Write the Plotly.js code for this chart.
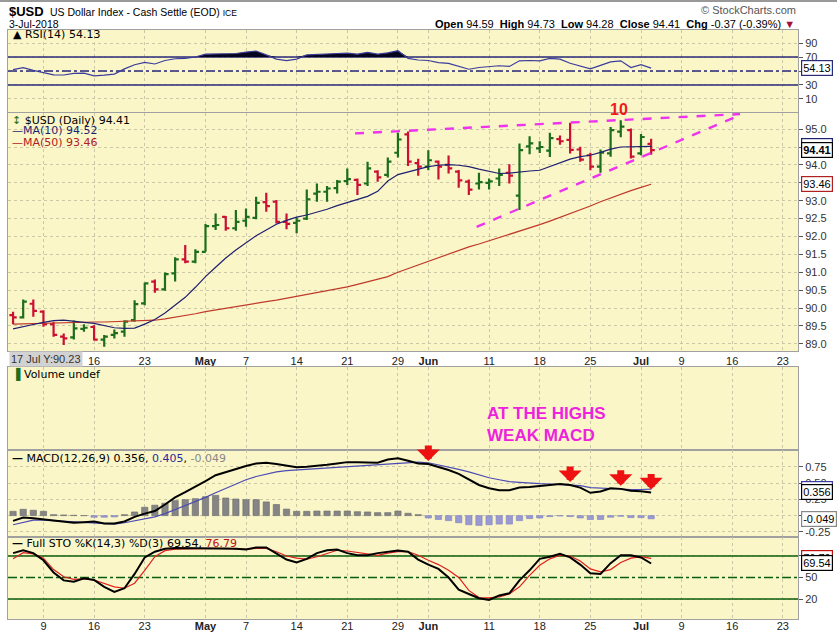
<!DOCTYPE html>
<html><head><meta charset="utf-8">
<script src="https://cdn.plot.ly/plotly-3.0.1.min.js"></script>
<style>html,body{margin:0;padding:0;background:#fff}#chart{width:837px;height:633px}</style>
</head><body><div id="chart"></div>
<script>
// ---------- data ----------
const dates = ['2018-04-04','2018-04-05','2018-04-06','2018-04-09','2018-04-10','2018-04-11','2018-04-12','2018-04-13','2018-04-16','2018-04-17','2018-04-18','2018-04-19','2018-04-20','2018-04-23','2018-04-24','2018-04-25','2018-04-26','2018-04-27','2018-04-30',
'2018-05-01','2018-05-02','2018-05-03','2018-05-04','2018-05-07','2018-05-08','2018-05-09','2018-05-10','2018-05-11','2018-05-14','2018-05-15','2018-05-16','2018-05-17','2018-05-18','2018-05-21','2018-05-22','2018-05-23','2018-05-24','2018-05-25','2018-05-29','2018-05-30','2018-05-31',
'2018-06-01','2018-06-04','2018-06-05','2018-06-06','2018-06-07','2018-06-08','2018-06-11','2018-06-12','2018-06-13','2018-06-14','2018-06-15','2018-06-18','2018-06-19','2018-06-20','2018-06-21','2018-06-22','2018-06-25','2018-06-26','2018-06-27','2018-06-28','2018-06-29',
'2018-07-02','2018-07-03'];
const futureDates = ['2018-07-05','2018-07-06','2018-07-09','2018-07-10','2018-07-11','2018-07-12','2018-07-13','2018-07-16','2018-07-17','2018-07-18','2018-07-19','2018-07-20','2018-07-23','2018-07-24'];

const open  = [89.80,89.74,90.12,89.90,89.55,89.20,89.18,89.42,89.47,89.12, 89.25,89.34,89.66,90.13,90.74,90.52,90.97,91.36,91.30,91.57, 92.29,92.55,92.23,92.44,92.52,92.96,92.97,92.41,92.38,92.50, 93.20,93.25,93.35,93.55,93.58,93.48,93.81,93.72,94.34,94.85, 94.05,93.95,94.09,94.00,93.81,93.53,93.48,93.50,93.62,93.78, 93.14,94.52,94.46,94.40,94.72,94.70,94.43,94.27,93.95,94.32, 94.93,94.97,94.32,94.59];
const high  = [89.90,90.24,90.24,89.94,89.62,89.29,89.65,89.55,89.52,89.25, 89.40,89.66,90.22,90.71,90.80,90.99,91.42,91.76,91.64,92.35, 92.64,92.57,92.74,92.78,93.11,93.22,93.02,92.64,92.53,93.31, 93.48,93.41,93.58,93.90,93.62,94.09,93.85,94.21,94.90,94.93, 94.17,94.41,94.12,94.26,93.86,93.59,93.78,93.62,93.90,94.02, 94.60,94.80,94.66,94.90,94.82,95.18,94.51,94.34,94.43,95.06, 95.25,95.02,94.86,94.73];
const low   = [89.55,89.71,89.76,89.48,89.20,88.97,89.12,89.34,89.09,88.92, 89.15,89.20,89.62,90.08,90.43,90.48,90.74,91.25,91.25,91.57, 92.18,92.16,92.16,92.27,92.48,92.69,92.36,92.20,92.09,92.46, 92.97,92.97,93.20,93.44,93.16,93.41,93.53,93.65,94.21,93.97, 93.70,93.85,93.59,93.76,93.36,93.16,93.31,93.31,93.41,93.48, 92.74,94.30,94.33,94.22,94.56,94.32,94.09,93.85,93.78,94.23, 94.77,94.18,94.27,94.28];
const close = [89.74,90.18,89.92,89.55,89.25,89.15,89.43,89.45,89.12,89.20, 89.30,89.62,90.11,90.69,90.52,90.95,91.36,91.30,91.57,92.29, 92.32,92.23,92.41,92.55,92.94,92.85,92.41,92.35,92.44,93.04, 93.25,93.34,93.53,93.60,93.44,93.90,93.65,94.09,94.71,94.09, 93.95,94.13,93.95,93.90,93.57,93.31,93.52,93.54,93.72,93.70, 94.41,94.60,94.50,94.75,94.66,94.42,94.15,93.95,94.34,94.97, 95.07,94.23,94.78,94.41];

const ma10 = [89.42,89.47,89.54,89.60,89.65,89.66,89.64,89.60,89.57,89.50, 89.45,89.43,89.44,89.55,89.68,89.86,90.08,90.30,90.58,90.88, 91.14,91.40,91.62,91.82,92.02,92.18,92.34,92.45,92.54,92.60, 92.67,92.76,92.86,92.94,93.02,93.12,93.26,93.55,93.73,93.80, 93.86,93.95,93.99,94.01,93.99,93.95,93.88,93.81,93.76,93.77, 93.81,93.83,93.85,93.95,94.06,94.16,94.23,94.27,94.35,94.44, 94.50,94.51,94.51,94.52];
const ma50 = [89.55,89.56,89.57,89.58,89.59,89.60,89.60,89.61,89.61,89.61, 89.62,89.62,89.62,89.63,89.66,89.70,89.74,89.79,89.84,89.90, 89.95,89.99,90.03,90.08,90.13,90.18,90.22,90.27,90.32,90.37, 90.42,90.47,90.53,90.59,90.66,90.73,90.80,90.88,91.00,91.10, 91.20,91.32,91.42,91.51,91.61,91.71,91.79,91.88,91.96,92.05, 92.13,92.23,92.33,92.43,92.53,92.63,92.73,92.85,92.97,93.08, 93.18,93.28,93.37,93.46];

const rsi = [52,54.7,51,47.5,44.5,44.3,46.5,47,43,44, 45.5,53,59,62.4,60,65,67.5,68,70,74, 74.5,74,75,77,78.6,73,67,64.8,67,73, 74,74,75,75.5,74,76.7,74,76,79,68, 65.7,65,62,61,57,52.5,55,56,57.5,56.5, 64.5,65,64.5,68,67,61,57,53,58,63, 64.5,55,59,54.13];

const macd = [-0.08,-0.03,-0.04,-0.06,-0.075,-0.09,-0.11,-0.10,-0.09,-0.12, -0.12,-0.09,-0.02,0.03,0.07,0.17,0.28,0.36,0.44,0.53, 0.62,0.67,0.72,0.76,0.80,0.81,0.79,0.76,0.74,0.75, 0.76,0.78,0.80,0.82,0.82,0.81,0.81,0.86,0.88,0.84, 0.80,0.79,0.75,0.70,0.64,0.56,0.47,0.42,0.39,0.39, 0.43,0.44,0.45,0.47,0.485,0.47,0.43,0.35,0.37,0.42, 0.41,0.38,0.375,0.356];
const signal = [-0.14,-0.10,-0.07,-0.07,-0.08,-0.085,-0.09,-0.10,-0.115,-0.125, -0.13,-0.11,-0.08,-0.05,-0.02,0.03,0.09,0.16,0.22,0.28, 0.35,0.42,0.49,0.55,0.60,0.64,0.67,0.69,0.70,0.71, 0.72,0.73,0.74,0.76,0.77,0.78,0.79,0.79,0.80,0.81, 0.82,0.81,0.78,0.75,0.71,0.67,0.62,0.58,0.55,0.52, 0.51,0.495,0.49,0.485,0.48,0.47,0.46,0.43,0.42,0.41, 0.40,0.40,0.40,0.405];
const hist = [0.066,0.097,0.082,0.066,0.015,0.01,0.005,0,-0.025,-0.025, -0.02,0.015,0.056,0.128,0.16,0.19,0.23,0.245,0.26,0.29, 0.31,0.27,0.255,0.245,0.245,0.21,0.17,0.10,0.066,0.066, 0.07,0.07,0.07,0.07,0.06,0.056,0.046,0.046,0.07,0.036, 0.015,-0.036,-0.06,-0.077,-0.11,-0.14,-0.15,-0.14,-0.13,-0.13, -0.077,-0.046,-0.036,-0.015,-0.005,-0.015,-0.036,-0.06,-0.06,-0.025, -0.01,-0.03,-0.03,-0.049];

const stoK = [84,88,84,74,57,46,44,49,46.5,37, 30,35,55,78,86,90,91,91,91,91, 91,91,90,89,92,92,83,75,71,76, 84,88,89,84,81,81,84,86,87.5,86, 75,68,62,50,33,27,21,18.7,25,28, 46,60,76,79,83,78,68,56,55,70, 81,81,78,69.54];
const stoD = [76,84.7,83,77,61,51,47.5,48,46.5,42, 37,35,42,60,79,87.5,89.5,90,90.5,90.5, 90.5,90.5,89.5,89.5,90.5,90.5,86,80,77,75.5, 79,84,88,87,85,82,81,84,86,86, 81,74,68,60,50,32,22,21.5,23,27, 37,53,67,76,81,80,73,62,58,61, 71,77,79,76.79];

const tickDates  = ['2018-04-09','2018-04-16','2018-04-23','2018-05-01','2018-05-07','2018-05-14','2018-05-21','2018-05-29','2018-06-01','2018-06-11','2018-06-18','2018-06-25','2018-07-02','2018-07-09','2018-07-16','2018-07-23'];
const tickLabels = ['9','16','23','<b>May</b>','7','14','21','29','<b>Jun</b>','11','18','25','<b>Jul</b>','9','16','23'];

// hand-drawn annotations on the chart (date index, price)
const trendLines = [ {x0:33.76, y0:94.88, x1:71.77, y1:95.42}, {x0:45.77, y0:92.27, x1:71.77, y1:95.39} ];
const arrowDates = ['2018-06-01','2018-06-21','2018-06-28','2018-07-03'];

// ---------- build ----------
const allDates = dates.concat(futureDates);
const xi = dates.map((d,i)=>i);
const idx = d => allDates.indexOf(d);
const tickvals = tickDates.map(idx);

const H=633, T=30, B=14, PH=H-T-B;
const py = y => (H-B-y)/PH;           // pixel y -> paper
const pxx = x => (x-8)/790;           // pixel x -> paper
const dom = (top,bot)=>[py(bot), py(top)];

const GRID='#cbc8a8', FRAME='#a0a0a0';
const baseX = {range:[-0.5,77.5], tickmode:'array', tickvals:tickvals, ticktext:tickLabels,
  showgrid:true, gridcolor:GRID, griddash:'dot', gridwidth:1, showline:true, mirror:true, linecolor:FRAME,
  zeroline:false, ticks:'', showticklabels:false, fixedrange:true,
  tickfont:{family:'Liberation Sans, Arial', size:11, color:'#222'}};
const baseY = {side:'right', showgrid:true, gridcolor:GRID, griddash:'dot', showline:true, mirror:true, linecolor:FRAME,
  zeroline:false, ticks:'outside', ticklen:4, tickcolor:'#555', fixedrange:true,
  tickfont:{family:'Liberation Sans, Arial', size:11, color:'#333'}};

const xr = [-0.5, 77.5];
const level = (xa, ya, v, color, dash, w) => ({x:xr, y:[v,v], xaxis:xa, yaxis:ya, mode:'lines', line:{color:color, width:w||1.5, dash:dash||'solid'}, hoverinfo:'skip'});

const traces = [];
// RSI
traces.push(level('x','y',70,'#2a2a7a'), level('x','y',30,'#2a2a7a'), level('x','y',50,'#2a2a7a','dashdot',1.3));
traces.push({x:xi, y:rsi.map(()=>70), xaxis:'x', yaxis:'y', mode:'lines', line:{width:0}, hoverinfo:'skip'});
traces.push({x:xi, y:rsi.map(v=>Math.max(v,70)), xaxis:'x', yaxis:'y', mode:'lines', line:{width:0}, fill:'tonexty', fillcolor:'#05051e', hoverinfo:'skip'});
traces.push({x:xi, y:rsi, xaxis:'x', yaxis:'y', mode:'lines', line:{color:'#3c3c9c', width:1.2}});
// Price
traces.push({x:xi, y:ma50, xaxis:'x2', yaxis:'y2', mode:'lines', line:{color:'#c0392b', width:1.2}});
traces.push({x:xi, y:ma10, xaxis:'x2', yaxis:'y2', mode:'lines', line:{color:'#1f1f70', width:1.2}});
traces.push({type:'ohlc', x:xi, open:open, high:high, low:low, close:close, xaxis:'x2', yaxis:'y2', tickwidth:0.36,
  increasing:{line:{color:'#1c6e1c', width:2.2}}, decreasing:{line:{color:'#cc1033', width:2.2}}});
// Volume placeholder (empty panel)
traces.push({x:[0], y:[0.5], xaxis:'x3', yaxis:'y3', mode:'markers', marker:{opacity:0}, hoverinfo:'skip'});
// MACD
traces.push({type:'bar', x:xi, y:hist, xaxis:'x4', yaxis:'y4', width:0.62,
  marker:{color:hist.map(v=>v>=0?'#858585':'#9a9ad2'), line:{color:hist.map(v=>v>=0?'#6a6a6a':'#8080c0'), width:0.6}}});
traces.push({x:xi, y:signal, xaxis:'x4', yaxis:'y4', mode:'lines', line:{color:'#4b4bb4', width:1.2}});
traces.push({x:xi, y:macd, xaxis:'x4', yaxis:'y4', mode:'lines', line:{color:'#000', width:2}});
// STO
traces.push(level('x5','y5',80,'#0b5e0b'), level('x5','y5',20,'#0b5e0b'), level('x5','y5',50,'#0b5e0b','dashdot',1.3));
traces.push({x:xi, y:stoD, xaxis:'x5', yaxis:'y5', mode:'lines', line:{color:'#e02020', width:1.2}});
traces.push({x:xi, y:stoK, xaxis:'x5', yaxis:'y5', mode:'lines', line:{color:'#000', width:2}});

const shapes = [
  {type:'line', xref:'paper', yref:'paper', x0:-0.02, x1:1.06, y0:py(1), y1:py(1), line:{color:'#999', width:2}}
];
trendLines.forEach(t=>shapes.push({type:'line', xref:'x2', yref:'y2', x0:t.x0, y0:t.y0, x1:t.x1, y1:t.y1, line:{color:'#ee33ee', width:2.4, dash:'dash'}}));

const F = 'DejaVu Sans, Verdana, sans-serif';
const A = 'Liberation Sans, Arial, sans-serif';
const txt = (x,y,text,opt) => Object.assign({xref:'paper', yref:'paper', x:pxx(x), y:py(y), xanchor:'left', yanchor:'middle', text:text, showarrow:false, font:{family:F, size:11, color:'#000'}}, opt||{});
const annotations = [
  txt(7,12,'<b>$USD</b>',{font:{family:A,size:13,color:'#000'}}),
  txt(48,12,'US Dollar Index - Cash Settle (EOD) <span style="font-size:8.5px">ICE</span>',{font:{family:A,size:10.5,color:'#000'}}),
  txt(7,24,'3-Jul-2018',{font:{family:A,size:10.5,color:'#000'}}),
  txt(798,10,'\u00a9 StockCharts.com',{xanchor:'right',font:{family:A,size:11,color:'#555'}}),
  txt(797,24,'<b>Open</b> 94.59  <b>High</b> 94.73  <b>Low</b> 94.28  <b>Close</b> 94.41  <b>Chg</b> -0.37 (-0.39%) <span style="color:#a0103a">\u25BC</span>',{xanchor:'right',font:{family:A,size:11,color:'#000'}}),
  txt(11,35,'\u25B2 RSI(14) 54.13'),
  txt(10,120,'<span style="color:#1c6e1c">\u2195</span> $USD (Daily) 94.41'),
  txt(10,131,'<span style="color:#1f1f70">\u2014MA(10) 94.52</span>'),
  txt(10,142,'<span style="color:#b02020">\u2014MA(50) 93.46</span>'),
  txt(10,374,'<span style="color:#1c6e1c">\u2590</span> Volume undef'),
  txt(10,458,'<b>\u2014</b> MACD(12,26,9) 0.356, <span style="color:#2a2a9a">0.405</span>, <span style="color:#888">-0.049</span>'),
  txt(10,543,'<b>\u2014</b> Full STO %K(14,3) %D(3) 69.54, <span style="color:#c01010">76.79</span>'),
  txt(9,359,'17 Jul Y:90.23',{bgcolor:'#d2d2d2', font:{family:A,size:11,color:'#333'}, borderpad:1}),
  txt(485,424.5,'<b>AT THE HIGHS<br>WEAK MACD</b>',{align:'left', font:{family:A,size:17,color:'#ee22dd'}}),
  txt(619,109,'<b>10</b>',{xanchor:'center', font:{family:A,size:16,color:'#ee1a1a'}})
];
arrowDates.forEach(d=>{ const i=idx(d); annotations.push({xref:'x4', yref:'y4', x:i, y:macd[i], ax:0, ay:-20, showarrow:true, arrowhead:1, arrowsize:0.55, arrowwidth:7, arrowcolor:'#ee1111', standoff:3, text:''}); });
const tag = (yref,y,text,color,bold) => ({xref:'paper', yref:yref, x:1, y:y, xanchor:'left', xshift:3, showarrow:false,
  text: bold?'<b>'+text+'</b>':text, bgcolor:'#fff', bordercolor:color, borderwidth:1.2, borderpad:1, font:{family:A, size:11, color:'#000'}});
annotations.push(tag('y',54.13,'54.13','#2a2a7a'));
annotations.push(tag('y2',94.52,'94.52','#1f1f70'));
annotations.push(tag('y2',94.41,'94.41','#000',true));
annotations.push(tag('y2',93.46,'93.46','#b02020'));
annotations.push(tag('y4',0.405,'0.405','#3a3aa0'));
annotations.push(tag('y4',0.356,'0.356','#000'));
annotations.push(tag('y4',-0.049,'-0.049','#888'));
annotations.push(tag('y5',76.79,'76.79','#c01010'));
annotations.push(tag('y5',69.54,'69.54','#000'));

// tick labels that sit behind the value tags in the reference are left blank
const priceTicks = [89,89.5,90,90.5,91,91.5,92,92.5,93,93.5,94,94.5,95];
const priceTickText = priceTicks.map(v => (v===94.5 || v===93.5) ? '' : v.toFixed(1));
const midTickText = tickLabels.map((t,i)=> i===0 ? '' : t);

const layout = {
  width:837, height:633, margin:{l:8, r:39, t:T, b:B}, paper_bgcolor:'#fff', plot_bgcolor:'#faf6c8', showlegend:false, hovermode:false,
  xaxis: Object.assign({}, baseX, {anchor:'y'}),
  xaxis2: Object.assign({}, baseX, {anchor:'y2', showticklabels:true, ticktext:midTickText, rangeslider:{visible:false}}),
  xaxis3: Object.assign({}, baseX, {anchor:'y3'}),
  xaxis4: Object.assign({}, baseX, {anchor:'y4'}),
  xaxis5: Object.assign({}, baseX, {anchor:'y5', showticklabels:true, ticklabelstandoff:-3}),
  yaxis: Object.assign({}, baseY, {anchor:'x', domain:dom(30,112), range:[-8.6,108.6], tickvals:[10,30,50,70,90], ticktext:['10','30','','70','90']}),
  yaxis2: Object.assign({}, baseY, {anchor:'x2', domain:dom(113,351), range:[88.8,95.45], tickmode:'array', tickvals:priceTicks, ticktext:priceTickText}),
  yaxis3: Object.assign({}, baseY, {anchor:'x3', domain:dom(367,450), range:[0,1], showticklabels:false, showgrid:false, ticks:''}),
  yaxis4: Object.assign({}, baseY, {anchor:'x4', domain:dom(450,537), range:[-0.328,1.006], tickvals:[-0.25,0,0.25,0.5,0.75], ticktext:['-0.25','','0.25','0.50','0.75']}),
  yaxis5: Object.assign({}, baseY, {anchor:'x5', domain:dom(537,619), range:[-7.9,106.5], tickvals:[20,50,80], ticktext:['20','50','']}),
  shapes:shapes, annotations:annotations
};
Plotly.newPlot('chart', traces, layout, {displayModeBar:false, staticPlot:true});
</script></body></html>
